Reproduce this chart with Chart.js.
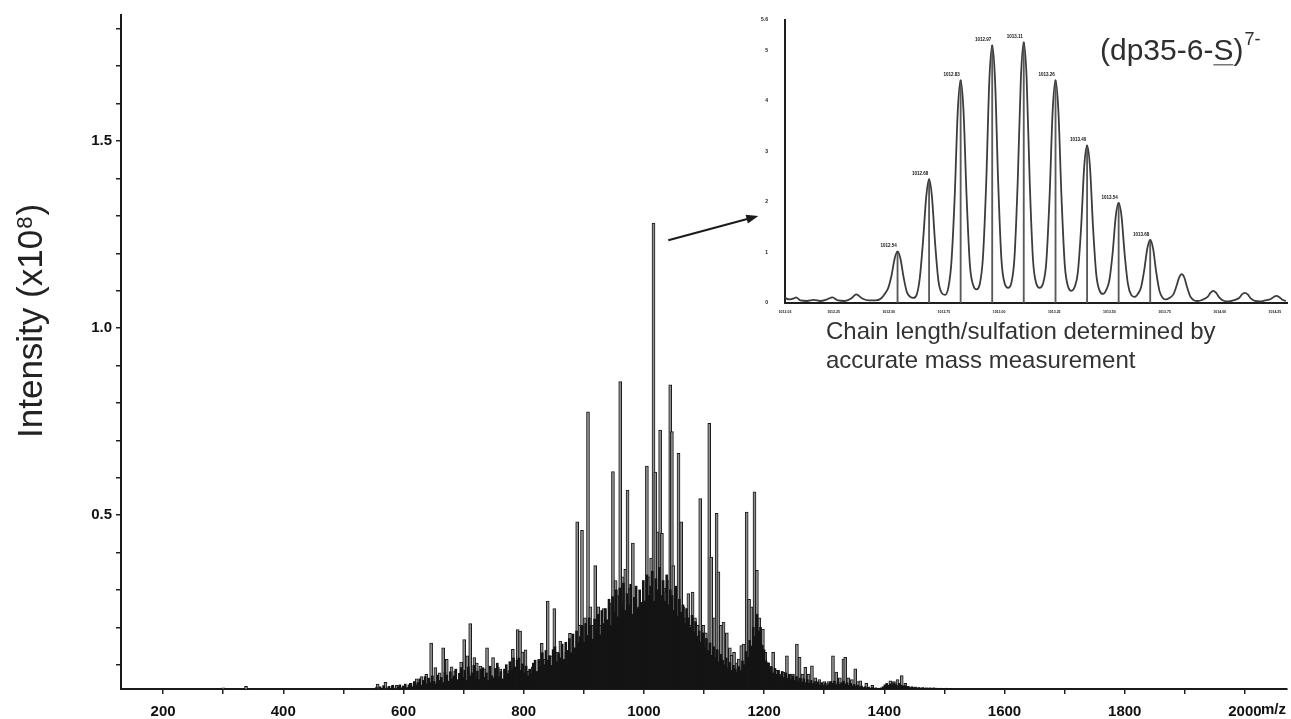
<!DOCTYPE html>
<html>
<head>
<meta charset="utf-8">
<title>dp35 spectrum</title>
<script src="https://cdn.jsdelivr.net/npm/chart.js@4.4.1/dist/chart.umd.min.js"></script>
<style>
  body { margin: 0; background: #fff; }
  #wrap { position: relative; width: 1291px; height: 719px; }
  #main { position: absolute; left: 0; top: 0; width: 1291px; height: 719px; }
  #inset { position: absolute; left: 740px; top: 0; width: 551px; height: 330px; }
</style>
</head>
<body>
<div id="wrap">
  <div id="main"><canvas id="spectrum"></canvas></div>
  <div id="inset"><canvas id="zoomed"></canvas></div>
</div>
<script>
const FONT = "'Liberation Sans', Arial, sans-serif";

// full scan, resolved lines (m/z, intensity x10^8)
const peakMz = [
  300, 320, 338, 352, 471, 500, 557, 570, 582, 589,
  600, 612, 622, 630, 638, 646, 653, 660, 666, 672,
  680, 686, 696, 701, 706, 711, 718, 722, 728, 734,
  739, 749, 757, 761, 770, 776, 782, 790, 794, 798,
  803, 808, 815, 822, 830, 835, 840, 846, 851, 856,
  861, 866, 871, 877, 882, 889, 893, 897, 902, 907,
  911, 915, 919, 924, 928, 933, 938, 943, 948.5, 953,
  956, 960.6, 965, 969, 972.8, 977, 981.7, 986, 990, 993,
  997, 1001, 1005, 1009, 1012, 1016, 1019, 1023, 1027, 1030,
  1034, 1037, 1040, 1043.8, 1046.6, 1049, 1053, 1057.6, 1062, 1066,
  1070, 1074, 1077, 1081, 1085, 1089, 1093.7, 1099, 1103, 1108.7,
  1112, 1117, 1121, 1124, 1128, 1132.5, 1138, 1143, 1146, 1150,
  1155, 1158, 1162, 1166, 1171, 1175, 1179, 1184, 1188, 1192,
  1198, 1202, 1207, 1211, 1215, 1220, 1226, 1232, 1238, 1243,
  1248, 1254.6, 1259, 1264, 1268.5, 1274, 1279.6, 1285, 1292, 1300,
  1307, 1314.6, 1320, 1326, 1332, 1335, 1340, 1346, 1351.6, 1356,
  1360, 1370, 1380, 1410, 1416, 1422, 1429, 1435
];
const peakInt = [
  0.038, 0.037, 0.042, 0.037, 0.037, 0.036, 0.048, 0.053, 0.043, 0.045,
  0.043, 0.05, 0.062, 0.068, 0.074, 0.158, 0.092, 0.078, 0.145, 0.114,
  0.094, 0.083, 0.107, 0.167, 0.124, 0.21, 0.119, 0.104, 0.096, 0.089,
  0.145, 0.119, 0.094, 0.088, 0.074, 0.084, 0.141, 0.194, 0.19, 0.134,
  0.14, 0.083, 0.094, 0.083, 0.157, 0.114, 0.27, 0.124, 0.25, 0.134,
  0.163, 0.115, 0.134, 0.184, 0.124, 0.482, 0.205, 0.459, 0.225, 0.776,
  0.255, 0.205, 0.365, 0.255, 0.205, 0.25, 0.175, 0.265, 0.616, 0.325,
  0.285, 0.857, 0.335, 0.355, 0.567, 0.305, 0.425, 0.275, 0.255, 0.235,
  0.267, 0.245, 0.631, 0.335, 0.385, 1.281, 0.615, 0.455, 0.727, 0.451,
  0.305, 0.295, 0.325, 0.848, 0.723, 0.365, 0.305, 0.665, 0.482, 0.255,
  0.225, 0.29, 0.205, 0.294, 0.225, 0.205, 0.544, 0.205, 0.185, 0.745,
  0.388, 0.225, 0.505, 0.348, 0.205, 0.214, 0.185, 0.145, 0.125, 0.133,
  0.105, 0.115, 0.151, 0.155, 0.508, 0.275, 0.255, 0.562, 0.352, 0.225,
  0.195, 0.133, 0.105, 0.095, 0.133, 0.085, 0.075, 0.08, 0.124, 0.075,
  0.075, 0.155, 0.12, 0.075, 0.093, 0.075, 0.097, 0.065, 0.06, 0.055,
  0.055, 0.124, 0.08, 0.065, 0.115, 0.12, 0.065, 0.06, 0.089, 0.055,
  0.057, 0.05, 0.045, 0.057, 0.055, 0.06, 0.071, 0.05
];

// unresolved background under the envelope, one value every 3 m/z from 552
const grassStart = 552;
const grassStep = 3;
const grassInt = [
  0.036, 0.039, 0.035, 0.041, 0.037, 0.044, 0.036, 0.038, 0.042, 0.036, 0.045, 0.037, 0.036, 0.041, 0.046, 0.038, 0.043, 0.048, 0.039, 0.046,
  0.05, 0.041, 0.055, 0.046, 0.052, 0.062, 0.045, 0.058, 0.068, 0.049, 0.064, 0.052, 0.07, 0.055, 0.048, 0.072, 0.058, 0.066, 0.052, 0.08,
  0.072, 0.056, 0.081, 0.062, 0.07, 0.088, 0.06, 0.077, 0.092, 0.066, 0.085, 0.058, 0.094, 0.07, 0.078, 0.098, 0.064, 0.083, 0.06, 0.088,
  0.092, 0.066, 0.078, 0.058, 0.096, 0.07, 0.064, 0.09, 0.104, 0.068, 0.082, 0.062, 0.088, 0.1, 0.076, 0.108, 0.086, 0.118, 0.094, 0.112,
  0.118, 0.085, 0.102, 0.078, 0.096, 0.07, 0.088, 0.074, 0.104, 0.112, 0.08, 0.114, 0.095, 0.132, 0.1, 0.138, 0.112, 0.124, 0.098, 0.14,
  0.148, 0.108, 0.13, 0.118, 0.155, 0.112, 0.16, 0.138, 0.17, 0.132, 0.182, 0.145, 0.19, 0.158, 0.175, 0.205, 0.16, 0.21, 0.178, 0.225,
  0.205, 0.168, 0.222, 0.19, 0.235, 0.18, 0.245, 0.21, 0.25, 0.22, 0.275, 0.205, 0.282, 0.24, 0.3, 0.228, 0.305, 0.26, 0.318, 0.245,
  0.29, 0.26, 0.315, 0.235, 0.28, 0.31, 0.25, 0.3, 0.265, 0.325, 0.27, 0.34, 0.285, 0.31, 0.35, 0.27, 0.33, 0.3, 0.36, 0.285,
  0.325, 0.27, 0.34, 0.26, 0.3, 0.285, 0.245, 0.31, 0.23, 0.275, 0.24, 0.26, 0.21, 0.25, 0.225, 0.2, 0.232, 0.188, 0.215, 0.176,
  0.19, 0.16, 0.185, 0.145, 0.17, 0.138, 0.158, 0.125, 0.148, 0.118, 0.14, 0.108, 0.128, 0.112, 0.1, 0.118, 0.092, 0.106, 0.085, 0.098,
  0.088, 0.08, 0.095, 0.084, 0.11, 0.1, 0.135, 0.12, 0.165, 0.15, 0.2, 0.175, 0.235, 0.19, 0.2, 0.152, 0.14, 0.11, 0.105, 0.088,
  0.095, 0.078, 0.09, 0.074, 0.085, 0.07, 0.082, 0.066, 0.078, 0.064, 0.074, 0.06, 0.07, 0.058, 0.068, 0.056, 0.064, 0.054, 0.062, 0.052,
  0.06, 0.05, 0.058, 0.049, 0.055, 0.048, 0.054, 0.046, 0.052, 0.045, 0.05, 0.044, 0.049, 0.055, 0.05, 0.056, 0.047, 0.054, 0.048, 0.052,
  0.056, 0.048, 0.052, 0.045, 0.05, 0.043, 0.047, 0.042, 0.045, 0.04, 0.043, 0.039, 0.041, 0.038, 0.04, 0.037, 0.039, 0.037, 0.038, 0.036,
  0.037, 0.038, 0.041, 0.046, 0.05, 0.045, 0.049, 0.046, 0.051, 0.047, 0.044, 0.05, 0.045, 0.043, 0.044, 0.041, 0.042, 0.039, 0.041, 0.039,
  0.04, 0.038, 0.039, 0.037, 0.039, 0.037, 0.038, 0.037, 0.038, 0.036, 0.038, 0.037, 0.037, 0.036, 0.037, 0.036, 0.036, 0.037, 0.036, 0.036
];

const mainXTicks = [200, 300, 400, 500, 600, 700, 800, 900, 1000, 1100, 1200, 1300, 1400, 1500, 1600, 1700, 1800, 1900, 2000];
const mainYTicks = [0.1, 0.2, 0.3, 0.4, 0.5, 0.6, 0.7, 0.8, 0.9, 1.0, 1.1, 1.2, 1.3, 1.4, 1.5, 1.6, 1.7, 1.8];

// arrow from the 7- cluster to the expanded view (data units)
const arrowFrom = { x: 1040.6, y: 1.235 };
const arrowTo = { x: 1190.4, y: 1.2995 };

// expanded isotope cluster of (dp35-6-S)7-, profile trace
const insetMz = [
  1012.03, 1012.05, 1012.07, 1012.08, 1012.10, 1012.13, 1012.16, 1012.19, 1012.22, 1012.245,
  1012.27, 1012.30, 1012.33, 1012.353, 1012.38, 1012.41, 1012.44, 1012.465, 1012.485,
  1012.498, 1012.513, 1012.527, 1012.54, 1012.553, 1012.567, 1012.582, 1012.598, 1012.612, 1012.628,
  1012.641, 1012.656, 1012.67, 1012.683, 1012.696, 1012.71, 1012.725, 1012.74, 1012.755, 1012.77,
  1012.784, 1012.799, 1012.813, 1012.826, 1012.839, 1012.853, 1012.868, 1012.883, 1012.898, 1012.913,
  1012.927, 1012.942, 1012.956, 1012.969, 1012.982, 1012.996, 1013.011, 1013.026, 1013.041, 1013.056,
  1013.07, 1013.085, 1013.099, 1013.112, 1013.125, 1013.139, 1013.154, 1013.169, 1013.184, 1013.199,
  1013.214, 1013.229, 1013.243, 1013.256, 1013.269, 1013.283, 1013.298, 1013.313, 1013.328, 1013.343,
  1013.357, 1013.372, 1013.386, 1013.399, 1013.412, 1013.426, 1013.441, 1013.456, 1013.471, 1013.486,
  1013.50, 1013.515, 1013.529, 1013.542, 1013.555, 1013.569, 1013.584, 1013.599, 1013.614, 1013.629,
  1013.643, 1013.658, 1013.672, 1013.685, 1013.698, 1013.712, 1013.727, 1013.742, 1013.757, 1013.772,
  1013.79, 1013.803, 1013.816, 1013.828, 1013.84, 1013.853, 1013.868, 1013.885, 1013.90, 1013.92,
  1013.945, 1013.958, 1013.971, 1013.984, 1013.998, 1014.015, 1014.04, 1014.06,
  1014.088, 1014.101, 1014.114, 1014.127, 1014.141, 1014.16, 1014.185, 1014.205,
  1014.232, 1014.245, 1014.257, 1014.269, 1014.282, 1014.3
];
const insetInt = [
  0.10, 0.07, 0.09, 0.11, 0.05, 0.04, 0.06, 0.04, 0.07, 0.11,
  0.05, 0.04, 0.09, 0.17, 0.09, 0.05, 0.05, 0.09, 0.2,
  0.3, 0.55, 0.88, 1.02, 0.88, 0.52, 0.22, 0.12, 0.10, 0.18,
  0.5, 1.25, 2.1, 2.45, 2.1, 1.2, 0.45, 0.2, 0.16, 0.3,
  0.8, 2.1, 3.8, 4.41, 3.8, 2.1, 0.75, 0.35, 0.27, 0.38,
  0.9, 2.4, 4.4, 5.10, 4.4, 2.4, 0.85, 0.38, 0.3, 0.4,
  0.9, 2.45, 4.45, 5.16, 4.45, 2.4, 0.85, 0.38, 0.3, 0.38,
  0.8, 2.1, 3.8, 4.41, 3.8, 2.1, 0.75, 0.32, 0.24, 0.32,
  0.6, 1.5, 2.7, 3.12, 2.7, 1.5, 0.55, 0.24, 0.18, 0.26,
  0.45, 1.0, 1.72, 1.98, 1.72, 0.98, 0.38, 0.16, 0.12, 0.18,
  0.3, 0.65, 1.08, 1.25, 1.08, 0.62, 0.24, 0.1, 0.07, 0.1,
  0.17, 0.32, 0.5, 0.57, 0.5, 0.3, 0.12, 0.05, 0.04, 0.06,
  0.12, 0.2, 0.24, 0.2, 0.11, 0.05, 0.03, 0.05,
  0.1, 0.17, 0.2, 0.17, 0.09, 0.04, 0.03, 0.05,
  0.08, 0.12, 0.14, 0.12, 0.07, 0.04
];

// centroid sticks of the labelled isotopes
const stickMz = [1012.54, 1012.683, 1012.826, 1012.969, 1013.112, 1013.256, 1013.399, 1013.542, 1013.685];
const stickInt = [1.02, 2.45, 4.41, 5.10, 5.16, 4.41, 3.12, 1.98, 1.25];

const insetXTicks = [1012.03, 1012.25, 1012.5, 1012.75, 1013.0, 1013.25, 1013.5, 1013.75, 1014.0, 1014.25];
const insetYTicks = [0, 1, 2, 3, 4, 5, 5.6];

const toPoints = (xs, ys) => xs.map((x, i) => ({ x: x, y: ys[i] }));
const grassPoints = grassInt.map((v, i) => ({ x: grassStart + i * grassStep, y: v }));

// y title, m/z unit, arrow and caption on the main canvas
const mainDecor = {
  id: 'mainDecor',
  afterDraw(chart) {
    const ctx = chart.ctx;
    const xs = chart.scales.x, ys = chart.scales.y;

    ctx.save();
    ctx.fillStyle = '#222';
    ctx.textAlign = 'left';
    ctx.textBaseline = 'alphabetic';
    ctx.translate(42, 438);
    ctx.rotate(-Math.PI / 2);
    ctx.font = '35px ' + FONT;
    const head = 'Intensity (x10';
    ctx.fillText(head, 0, 0);
    let w = ctx.measureText(head).width;
    ctx.font = '22px ' + FONT;
    ctx.fillText('8', w + 1, -10);
    w += ctx.measureText('8').width + 2;
    ctx.font = '35px ' + FONT;
    ctx.fillText(')', w, 0);
    ctx.restore();

    ctx.save();
    ctx.fillStyle = '#111';
    ctx.font = 'bold 15px ' + FONT;
    ctx.textAlign = 'left';
    ctx.textBaseline = 'middle';
    ctx.fillText('m/z', xs.getPixelForValue(2000) + 16, 710);
    ctx.restore();

    // arrow
    const x0 = xs.getPixelForValue(arrowFrom.x), y0 = ys.getPixelForValue(arrowFrom.y);
    const x1 = xs.getPixelForValue(arrowTo.x), y1 = ys.getPixelForValue(arrowTo.y);
    const ang = Math.atan2(y1 - y0, x1 - x0);
    const len = 12, half = 4.5;
    ctx.save();
    ctx.strokeStyle = '#1a1a1a';
    ctx.fillStyle = '#1a1a1a';
    ctx.lineWidth = 2;
    ctx.beginPath();
    ctx.moveTo(x0, y0);
    ctx.lineTo(x1 - Math.cos(ang) * len * 0.8, y1 - Math.sin(ang) * len * 0.8);
    ctx.stroke();
    ctx.beginPath();
    ctx.moveTo(x1, y1);
    ctx.lineTo(x1 - Math.cos(ang) * len - Math.sin(ang) * half, y1 - Math.sin(ang) * len + Math.cos(ang) * half);
    ctx.lineTo(x1 - Math.cos(ang) * len + Math.sin(ang) * half, y1 - Math.sin(ang) * len - Math.cos(ang) * half);
    ctx.closePath();
    ctx.fill();
    ctx.restore();

    ctx.save();
    ctx.fillStyle = '#333';
    ctx.font = '24px ' + FONT;
    ctx.textAlign = 'left';
    ctx.textBaseline = 'alphabetic';
    ctx.fillText('Chain length/sulfation determined by', 826, 339);
    ctx.fillText('accurate mass measurement', 826, 368);
    ctx.restore();
  }
};

new Chart(document.getElementById('spectrum'), {
  type: 'bar',
  data: {
    datasets: [
      {
        // first dataset is drawn on top
        data: grassPoints,
        backgroundColor: '#141414',
        barThickness: 2,
        borderWidth: 0,
        grouped: false
      },
      {
        data: toPoints(peakMz, peakInt),
        backgroundColor: '#8e8e8e',
        borderColor: '#181818',
        borderWidth: { left: 1, right: 1, top: 1, bottom: 0 },
        barThickness: 3,
        grouped: false
      }
    ]
  },
  options: {
    responsive: true,
    maintainAspectRatio: false,
    animation: false,
    layout: { padding: { top: 15, right: 4, left: 0, bottom: 0 } },
    plugins: { legend: { display: false }, tooltip: { enabled: false } },
    scales: {
      x: {
        type: 'linear',
        min: 130,
        max: 2070,
        offset: false,
        afterBuildTicks: s => { s.ticks = mainXTicks.map(v => ({ value: v })); },
        afterFit: s => { s.height = 30; },
        grid: { drawOnChartArea: false, offset: false, color: '#222', lineWidth: 1.5, tickLength: 5 },
        border: { color: '#1a1a1a', width: 2 },
        ticks: {
          autoSkip: false,
          maxRotation: 0,
          padding: 9,
          color: '#111',
          font: { family: FONT, size: 15, weight: 'bold' },
          callback: v => (v % 200 === 0 ? String(v) : '')
        }
      },
      y: {
        min: 0.035,
        max: 1.837,
        afterBuildTicks: s => { s.ticks = mainYTicks.map(v => ({ value: v })); },
        afterFit: s => { s.width = 121; },
        grid: { drawOnChartArea: false, color: '#222', lineWidth: 1.5, tickLength: 5 },
        border: { color: '#1a1a1a', width: 2 },
        ticks: {
          autoSkip: false,
          padding: 4,
          color: '#111',
          font: { family: FONT, size: 15, weight: 'bold' },
          callback: v => {
            const r = Math.round(v * 10);
            return r % 5 === 0 ? (r / 10).toFixed(1) : '';
          }
        }
      }
    }
  },
  plugins: [mainDecor]
});

// peak labels and the ion name on the expanded view
const insetDecor = {
  id: 'insetDecor',
  afterDatasetsDraw(chart) {
    const ctx = chart.ctx;
    const xs = chart.scales.x, ys = chart.scales.y;
    ctx.save();
    ctx.fillStyle = '#111';
    ctx.font = 'bold 4.5px ' + FONT;
    ctx.textAlign = 'center';
    ctx.textBaseline = 'bottom';
    stickMz.forEach((mz, i) => {
      ctx.fillText(mz.toFixed(2), xs.getPixelForValue(mz) - 9, ys.getPixelForValue(stickInt[i]) - 3);
    });
    ctx.restore();

    ctx.save();
    const left = 360, base = 60;
    ctx.fillStyle = '#2e2e2e';
    ctx.textAlign = 'left';
    ctx.textBaseline = 'alphabetic';
    ctx.font = '30px ' + FONT;
    const a = '(dp35-6-';
    ctx.fillText(a, left, base);
    let w = ctx.measureText(a).width;
    ctx.fillText('S', left + w, base);
    const ws = ctx.measureText('S').width;
    ctx.fillStyle = '#777';
    ctx.fillRect(left + w, base + 4, ws, 1.5);
    ctx.fillStyle = '#2e2e2e';
    w += ws;
    ctx.fillText(')', left + w, base);
    w += ctx.measureText(')').width;
    ctx.font = '18px ' + FONT;
    ctx.fillText('7-', left + w + 1, base - 15);
    ctx.restore();
  }
};

new Chart(document.getElementById('zoomed'), {
  type: 'bar',
  data: {
    datasets: [
      {
        type: 'line',
        data: toPoints(insetMz, insetInt),
        borderColor: '#3c3c3c',
        borderWidth: 1.8,
        pointRadius: 0,
        cubicInterpolationMode: 'monotone',
        fill: false
      },
      {
        type: 'bar',
        data: toPoints(stickMz, stickInt),
        backgroundColor: '#5a5a5a',
        barThickness: 1.2,
        borderWidth: 0,
        grouped: false
      }
    ]
  },
  options: {
    responsive: true,
    maintainAspectRatio: false,
    animation: false,
    layout: { padding: { top: 15, right: 4, left: 0, bottom: 0 } },
    plugins: { legend: { display: false }, tooltip: { enabled: false } },
    scales: {
      x: {
        type: 'linear',
        min: 1012.03,
        max: 1014.305,
        offset: false,
        afterBuildTicks: s => { s.ticks = insetXTicks.map(v => ({ value: v })); },
        afterFit: s => { s.height = 27; },
        grid: { drawOnChartArea: false, drawTicks: false, offset: false },
        border: { color: '#1e1e1e', width: 2 },
        ticks: {
          autoSkip: false,
          maxRotation: 0,
          padding: 7,
          color: '#111',
          font: { family: FONT, size: 3.5, weight: 'bold' },
          callback: v => v.toFixed(2)
        }
      },
      y: {
        min: 0,
        max: 5.6,
        afterBuildTicks: s => { s.ticks = insetYTicks.map(v => ({ value: v })); },
        afterFit: s => { s.width = 45; },
        grid: { drawOnChartArea: false, drawTicks: false },
        border: { color: '#1e1e1e', width: 2 },
        ticks: {
          autoSkip: false,
          padding: 17,
          color: '#111',
          font: { family: FONT, size: 5, weight: 'bold' },
          callback: v => (v % 1 === 0 ? String(v) : v.toFixed(1))
        }
      }
    }
  },
  plugins: [insetDecor]
});
</script>
</body>
</html>
